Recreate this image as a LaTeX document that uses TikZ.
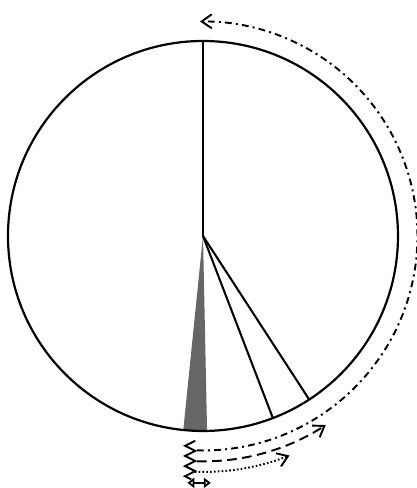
\documentclass[tikz,border=0pt]{standalone}
\usepackage{tikz}
\usetikzlibrary{arrows.meta}

\begin{document}
\begin{tikzpicture}[>={Straight Barb[length=2.6mm,width=3.6mm]}, line width=1.4pt,
    rim/.style={line width=1.6pt},
    spoke/.style={line width=1.5pt},
    dashdot/.style={dash pattern=on 5pt off 3pt on 1.5pt off 3pt},
    longdash/.style={dash pattern=on 7pt off 4pt},
    dots/.style={dash pattern=on 1.2pt off 1.6pt}]
    \useasboundingbox (-5.205,-6.462) rectangle (5.462,6.051);
    \coordinate (hub) at (0,0);
    \coordinate (top) at (90:5);
    \coordinate (rimA) at (-69:5);
    \coordinate (rimB) at (-57:5);

    \fill[black!60] (hub) -- (-95.8:5) arc (-95.8:-88.8:5) -- cycle;
    \draw[rim] (hub) circle (5);
    \draw[line width=1.1pt] (hub) -- (top);
    \draw[spoke] (hub) -- (rimA);
    \draw[spoke] (hub) -- (rimB);

    % arrows round the rim
    \draw[->, dashdot] (-91.6:5.5) arc (-91.6:90.8:5.5);
    \draw[->, longdash] (-91.5:5.78) arc (-91.5:-57:5.78);
    \draw[->, dots] (-92:6.05) arc (-92:-68.5:6.05);
    \draw[{Triangle[open,length=1.8mm,width=2.6mm]}-{Triangle[open,length=1.8mm,width=2.6mm]}]
        (-0.4,-6.33) -- (0.2,-6.33);

    % squiggle
    \draw (-0.2,-5.25) -- (-0.46,-5.38) -- (-0.2,-5.51) -- (-0.46,-5.64) -- (-0.2,-5.77)
        -- (-0.46,-5.9) -- (-0.2,-6.03) -- (-0.46,-6.16) -- (-0.3,-6.24);
\end{tikzpicture}
\end{document}
